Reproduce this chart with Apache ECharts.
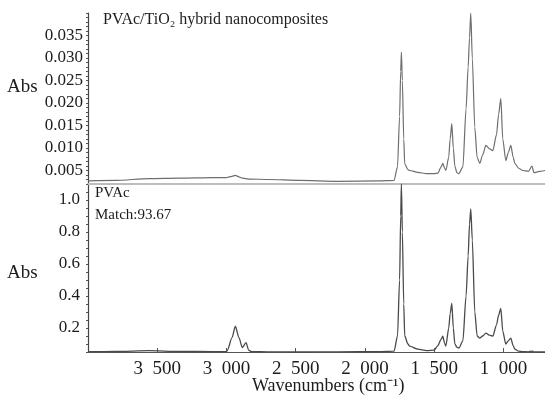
<!DOCTYPE html>
<html>
<head>
<meta charset="utf-8">
<title>PVAc FTIR</title>
<script src="https://cdn.jsdelivr.net/npm/echarts@6/dist/echarts.min.js"></script>
<style>
  html, body { margin: 0; padding: 0; background: #fff; }
  #main { width: 545px; height: 397px; }
</style>
</head>
<body>
<div id="main"></div>
<script>
// wavenumbers (cm-1) shared by both spectra
const wavenumbers = [4000, 3800, 3560, 3340, 3100, 3000, 2994, 2960, 2936, 2910, 2886, 2859, 2840, 2820, 2700, 2470, 2200, 1900,
  1790, 1765, 1750, 1742, 1737, 1730, 1720, 1713, 1690, 1677, 1619, 1554, 1500, 1474, 1450, 1438, 1425, 1416, 1395, 1385,
  1373, 1362, 1351, 1336, 1322, 1293, 1270, 1255, 1245, 1236, 1225, 1207, 1190, 1171, 1150, 1127, 1100, 1077, 1050, 1035,
  1019, 1005, 983, 965, 947, 930, 918, 890, 860, 820, 794, 780, 740, 700];

// PVAc/TiO2 hybrid (top panel)
const hybridAbs = [0.0027, 0.0028, 0.0032, 0.0033, 0.0034, 0.0034, 0.0035, 0.0037, 0.0039, 0.0036, 0.0033, 0.0032, 0.0031, 0.0031, 0.0030, 0.0028, 0.0026, 0.0027,
  0.0028, 0.0058, 0.0170, 0.0270, 0.0313, 0.0250, 0.0120, 0.0065, 0.0052, 0.0050, 0.0046, 0.0043, 0.0043, 0.0044, 0.0058, 0.0066, 0.0055, 0.0050, 0.0080, 0.0120,
  0.0154, 0.0100, 0.0060, 0.0045, 0.0043, 0.0058, 0.0187, 0.0280, 0.0345, 0.0400, 0.0300, 0.0146, 0.0079, 0.0066, 0.0085, 0.0106, 0.0098, 0.0094, 0.0130, 0.0175,
  0.0210, 0.0120, 0.0072, 0.0090, 0.0106, 0.0080, 0.0066, 0.0055, 0.0050, 0.0048, 0.0060, 0.0045, 0.0048, 0.0050];

// PVAc reference (bottom panel)
const pvacAbs = [0.052, 0.053, 0.058, 0.054, 0.052, 0.053, 0.060, 0.140, 0.211, 0.140, 0.078, 0.108, 0.062, 0.052, 0.051, 0.050, 0.051, 0.052,
  0.055, 0.150, 0.500, 0.900, 1.100, 0.800, 0.350, 0.150, 0.100, 0.087, 0.068, 0.058, 0.062, 0.090, 0.130, 0.149, 0.105, 0.087, 0.200, 0.290,
  0.354, 0.200, 0.100, 0.080, 0.075, 0.120, 0.400, 0.650, 0.850, 0.944, 0.750, 0.300, 0.150, 0.137, 0.150, 0.168, 0.155, 0.149, 0.220, 0.280,
  0.323, 0.180, 0.100, 0.120, 0.137, 0.090, 0.068, 0.055, 0.052, 0.051, 0.056, 0.051, 0.050, 0.050];

const xTickLabels = [3500, 3000, 2500, 2000, 1500, 1000];
const topTickLabels = [0.005, 0.010, 0.015, 0.020, 0.025, 0.030, 0.035];
const bottomTickLabels = [0.2, 0.4, 0.6, 0.8, 1.0];

const serif = 'Liberation Serif';
const ink = '#1c1c1c';

const chart = echarts.init(document.getElementById('main'));

const option = {
  animation: false,
  backgroundColor: '#fff',
  grid: [
    { left: 88, right: 0, top: 13, height: 171 },
    { left: 88, right: 0, top: 184, height: 168 }
  ],
  xAxis: [
    {
      gridIndex: 0, type: 'value', inverse: true, min: 700, max: 4000,
      axisLine: { show: true, lineStyle: { color: '#bdbdbd', width: 2 } },
      axisTick: { show: false }, axisLabel: { show: false }, splitLine: { show: false }
    },
    {
      gridIndex: 1, type: 'value', inverse: true, min: 700, max: 4000,
      axisLine: { show: true, lineStyle: { color: '#555', width: 1.2 } },
      axisTick: { show: true, inside: true, length: 4, customValues: xTickLabels, lineStyle: { color: '#555' } },
      axisLabel: {
        customValues: xTickLabels,
        margin: 8,
        fontFamily: serif, fontSize: 19, color: ink,
        // thousands written with a gap, e.g. "3 500"
        formatter: (v) => Math.floor(v / 1000) + '\u2002' + String(v % 1000).padStart(3, '0')
      },
      splitLine: { show: false }
    }
  ],
  yAxis: [
    {
      gridIndex: 0, type: 'value', min: 0.002, max: 0.04, interval: 0.001,
      axisLine: { show: true, lineStyle: { color: '#444', width: 1.2 } },
      axisTick: { show: true, length: 2, lineStyle: { color: '#555' } },
      axisLabel: {
        customValues: topTickLabels,
        margin: 5, fontFamily: serif, fontSize: 17, color: ink,
        formatter: (v) => v.toFixed(3)
      },
      splitLine: { show: false }
    },
    {
      gridIndex: 1, type: 'value', min: 0.05, max: 1.1, interval: 0.05,
      axisLine: { show: true, lineStyle: { color: '#444', width: 1.2 } },
      axisTick: { show: true, length: 2, lineStyle: { color: '#555' } },
      axisLabel: {
        customValues: bottomTickLabels,
        margin: 8, fontFamily: serif, fontSize: 17, color: ink,
        formatter: (v) => v.toFixed(1)
      },
      splitLine: { show: false }
    }
  ],
  series: [
    {
      name: 'PVAc/TiO2', type: 'line', xAxisIndex: 0, yAxisIndex: 0,
      showSymbol: false, clip: true, smooth: 0.25, smoothMonotone: 'x',
      lineStyle: { color: '#6e6e6e', width: 1.2 },
      data: wavenumbers.map((w, i) => [w, hybridAbs[i]])
    },
    {
      name: 'PVAc', type: 'line', xAxisIndex: 1, yAxisIndex: 1,
      showSymbol: false, clip: true, smooth: 0.25, smoothMonotone: 'x',
      lineStyle: { color: '#4a4a4a', width: 1.3 },
      data: wavenumbers.map((w, i) => [w, pvacAbs[i]])
    }
  ],
  graphic: [
    { type: 'text', left: 7, top: 78, style: { text: 'Abs', font: '19px ' + serif, fill: ink } },
    { type: 'text', left: 7, top: 264, style: { text: 'Abs', font: '19px ' + serif, fill: ink } },
    { type: 'text', left: 103, top: 12, style: { text: 'PVAc/TiO\u2082 hybrid nanocomposites', font: '16px ' + serif, fill: ink } },
    { type: 'text', left: 95, top: 186, style: { text: 'PVAc', font: '15px ' + serif, fill: ink } },
    { type: 'text', left: 95, top: 208, style: { text: 'Match:93.67', font: '15px ' + serif, fill: ink } },
    { type: 'text', left: 252, top: 377, style: { text: 'Wavenumbers (cm\u207B\u00B9)', font: '18px ' + serif, fill: ink } }
  ]
};

chart.setOption(option);
window.addEventListener('resize', () => chart.resize());
</script>
</body>
</html>
